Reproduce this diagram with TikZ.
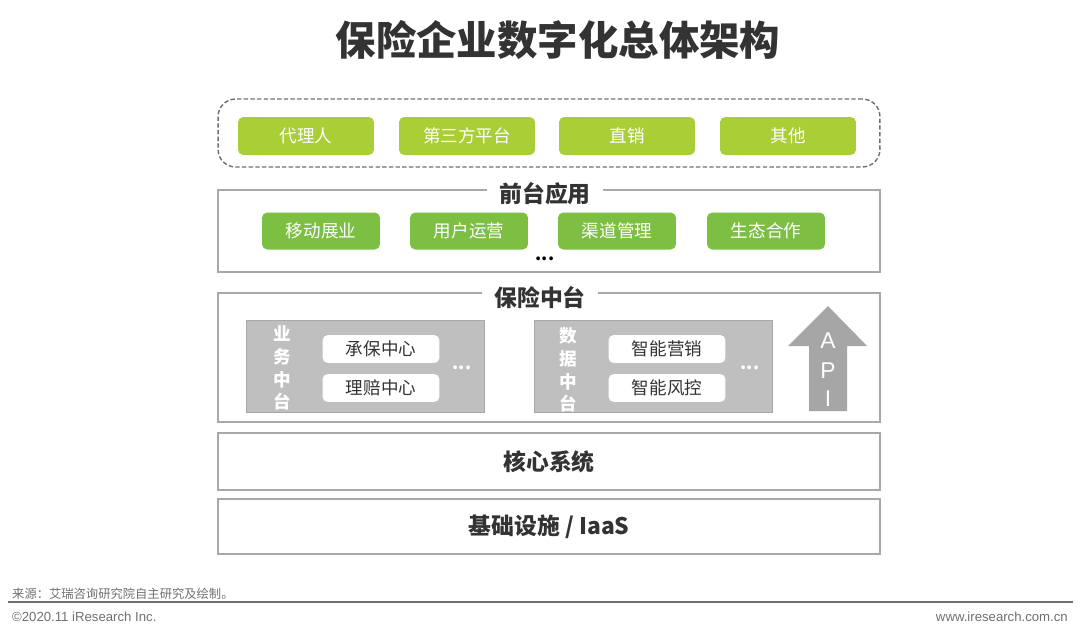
\documentclass[tikz,border=0pt]{standalone}
\usepackage{fontspec}
\setmainfont{Noto Sans CJK SC}
\newfontfamily\latinfont{Liberation Sans}
\usetikzlibrary{positioning}
\definecolor{title-ink}{HTML}{333333}
\definecolor{lime}{HTML}{A9CE36}
\definecolor{leaf}{HTML}{7DBF43}
\definecolor{frame}{HTML}{A8A8A8}
\definecolor{panel}{HTML}{BFBFBF}
\definecolor{arrow-gray}{HTML}{A6A6A6}
\definecolor{muted}{HTML}{707070}
\tikzset{
  channel/.style={
    fill=lime, rounded corners=3pt, text=white,
    minimum width=2.72cm, minimum height=0.76cm, font=\fontsize{10}{12}\selectfont
  },
  appbox/.style={
    fill=leaf, rounded corners=3pt, text=white,
    minimum width=2.36cm, minimum height=0.74cm, font=\fontsize{10}{12}\selectfont
  },
  layer/.style={draw=frame, line width=0.7pt, minimum width=13.24cm},
  layertitle/.style={
    fill=white, inner xsep=7pt, inner ysep=1pt, text=title-ink,
    font=\bfseries\fontsize{13}{15}\selectfont
  },
  panelbox/.style={fill=panel, draw=frame, minimum width=4.76cm, minimum height=1.84cm},
  centerbox/.style={
    fill=white, rounded corners=3pt, text=title-ink,
    minimum width=2.34cm, minimum height=0.54cm, font=\fontsize{10}{12}\selectfont
  },
  vlabel/.style={text=white, align=center, font=\bfseries\fontsize{10}{13}\selectfont},
  dots/.style={font=\bfseries\fontsize{10}{12}\selectfont},
  apiletter/.style={text=white, font=\latinfont\fontsize{13}{13}\selectfont},
  footnote/.style={text=muted, font=\fontsize{7}{8}\selectfont}
}

\begin{document}
\begin{tikzpicture}[x=0.02cm, y=-0.02cm]
  \useasboundingbox (0,0) rectangle (1080,637);

  % ---- title ---------------------------------------------------------------
  \node[text=title-ink, font=\bfseries\fontsize{23}{26}\selectfont] (title) at (558,40) {保险企业数字化总体架构};

  % ---- channels ------------------------------------------------------------
  \node[draw=muted, line width=0.8pt, dash pattern=on 2.5pt off 1.3pt, rounded corners=10pt,
        minimum width=13.24cm, minimum height=1.36cm] (channels) at (549,133) {};
  \node[channel] (agent)  at (306,136) {代理人};
  \node[channel] (third)  at (467,136) {第三方平台};
  \node[channel] (direct) at (627,136) {直销};
  \node[channel] (other)  at (788,136) {其他};

  % ---- front-end apps ------------------------------------------------------
  \node[layer, minimum height=1.64cm] (front) at (549,231) {};
  \node[layertitle] (fronttitle) at (545,194) {前台应用};
  \node[appbox] (mobile)  at (321,231) {移动展业};
  \node[appbox] (users)   at (469,231) {用户运营};
  \node[appbox] (channel) at (617,231) {渠道管理};
  \node[appbox] (eco)     at (766,231) {生态合作};
  \node[dots] (frontdots) at (545,259) {...};

  % ---- middle platform -----------------------------------------------------
  \node[layer, minimum height=2.58cm] (middle) at (549,357.5) {};
  \node[layertitle] (middletitle) at (540,298) {保险中台};

  \node[panelbox] (biz) at (365,366) {};
  \node[vlabel] (biztitle) at (282,368) {业\\务\\中\\台};
  \node[centerbox] (underwrite) at (381,349) {承保中心};
  \node[centerbox] (claims)     at (381,388) {理赔中心};
  \node[dots, text=white] (bizdots) at (462,368) {...};

  \node[panelbox] (data) at (653,366) {};
  \node[vlabel] (datatitle) at (568,370) {数\\据\\中\\台};
  \node[centerbox] (marketing) at (667,349) {智能营销};
  \node[centerbox] (risk)      at (667,388) {智能风控};
  \node[dots, text=white] (datadots) at (750,368) {...};

  % ---- API arrow -----------------------------------------------------------
  \fill[arrow-gray] (828,306) -- (867,346) -- (847,346) -- (847,411)
    -- (809,411) -- (809,346) -- (788,346) -- cycle;
  \node[apiletter] (apiA) at (828,341) {A};
  \node[apiletter] (apiP) at (828,371) {P};
  \node[apiletter] (apiI) at (828,399) {I};

  % ---- core & infrastructure -----------------------------------------------
  \node[layer, minimum height=1.14cm, layertitle, fill=none, inner ysep=0pt] (core) at (549,461.5) {核心系统};
  \node[layer, minimum height=1.1cm, layertitle, fill=none, inner ysep=0pt] (infra) at (549,526.5) {基础设施 / IaaS};

  % ---- footer --------------------------------------------------------------
  \node[footnote, anchor=west] (source) at (6,594) {来源：艾瑞咨询研究院自主研究及绘制。};
  \draw[muted, line width=0.8pt] (8,602) -- (1073,602);
  \node[footnote, font=\latinfont\fontsize{7.5}{8}\selectfont, anchor=west] (copy) at (6,617) {©2020.11 iResearch Inc.};
  \node[footnote, font=\latinfont\fontsize{7.5}{8}\selectfont, anchor=east] (web) at (1074,617) {www.iresearch.com.cn};
\end{tikzpicture}
\end{document}
